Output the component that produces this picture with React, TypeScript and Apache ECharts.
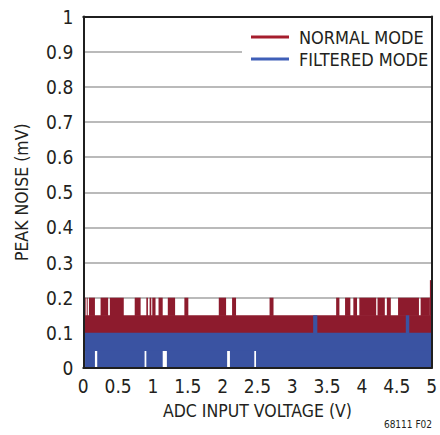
import React, { useEffect, useRef } from "react";
import * as echarts from "echarts";

// ---- data ----
const seriesNames = ["NORMAL MODE", "FILTERED MODE"];
const xTickInterval = 0.5;
const yTickInterval = 0.1;

// Normal mode: base peak noise level and spikes [startV, endV, peak mV]
const normalBase = 0.15;
const normalFloor = 0.1;
const normalSpikes: [number, number, number][] = [
  [0.0, 0.034, 0.2],
  [0.049, 0.063, 0.2],
  [0.081, 0.167, 0.2],
  [0.248, 0.357, 0.2],
  [0.381, 0.581, 0.2],
  [0.738, 0.823, 0.2],
  [0.905, 0.928, 0.2],
  [0.952, 0.976, 0.2],
  [0.99, 1.037, 0.2],
  [1.08, 1.14, 0.2],
  [1.213, 1.318, 0.2],
  [1.451, 1.508, 0.2],
  [1.945, 2.05, 0.2],
  [2.136, 2.193, 0.2],
  [2.674, 2.731, 0.2],
  [3.63, 3.677, 0.2],
  [3.758, 3.834, 0.2],
  [3.877, 3.93, 0.2],
  [3.963, 4.205, 0.2],
  [4.224, 4.329, 0.2],
  [4.358, 4.415, 0.2],
  [4.519, 4.819, 0.2],
  [4.843, 4.976, 0.2],
  [4.976, 5.0, 0.25],
];

// Filtered mode: base level, spikes [startV, endV, peak], dips [startV, endV, low]
const filteredBase = 0.1;
const filteredSpikes: [number, number, number][] = [
  [3.3, 3.36, 0.15],
  [4.63, 4.68, 0.15],
];
const filteredDips: [number, number, number][] = [
  [0.005, 0.025, 0.05],
  [0.167, 0.2, 0.05],
  [0.88, 0.905, 0.05],
  [1.14, 1.2, 0.05],
  [2.065, 2.105, 0.05],
  [2.455, 2.48, 0.05],
];

const xMin = 0;
const xMax = 5;

// ---- styles ----
const FONT = '"Liberation Sans Narrow", "DejaVu Sans Condensed", "Liberation Sans", sans-serif';
const TEXT = "#231f20";
const RED = "#8d1b2d";
const BLUE = "#3a53a2";
const RED_LEGEND = "#a51d2d";
const BLUE_LEGEND = "#3f5fb8";
const FRAME = "#1f1f1f";
const GRID = "#a3a3a3";

function buildNormal(): number[][] {
  const rects: number[][] = [[xMin, xMax, normalFloor, normalBase]];
  normalSpikes.forEach(([s, e, p]) => rects.push([s, e, normalBase, p]));
  return rects;
}

function buildFiltered(): number[][] {
  const rects: number[][] = [[xMin, xMax, 0.05, filteredBase]];
  const dips = [...filteredDips].sort((a, b) => a[0] - b[0]);
  let cur = xMin;
  dips.forEach(([s, e]) => {
    if (s > cur) rects.push([cur, s, 0, 0.05]);
    cur = Math.max(cur, e);
  });
  if (cur < xMax) rects.push([cur, xMax, 0, 0.05]);
  filteredSpikes.forEach(([s, e, p]) => rects.push([s, e, filteredBase, p]));
  return rects;
}

function makeRender(color: string) {
  return (_params: any, api: any) => {
    const p0 = api.coord([api.value(0), api.value(3)]);
    const p1 = api.coord([api.value(1), api.value(2)]);
    return {
      type: "rect",
      shape: {
        x: p0[0],
        y: p0[1],
        width: p1[0] - p0[0],
        height: p1[1] - p0[1] + 0.6,
      },
      style: { fill: color },
    };
  };
}

export default function App() {
  const ref = useRef<HTMLDivElement>(null);

  useEffect(() => {
    if (!ref.current) return;
    const chart = echarts.init(ref.current, undefined, { renderer: "svg" });
    const axisCommon = { min: xMin, max: xMax, interval: xTickInterval };
    const yCommon = { min: 0, max: 1, interval: yTickInterval };
    const frameLine = { show: true, onZero: false, lineStyle: { color: FRAME, width: 2 } };
    chart.setOption({
      animation: false,
      backgroundColor: "#ffffff",
      textStyle: { fontFamily: FONT },
      grid: { left: 83.3, right: 6.3, top: 16.5, bottom: 67, containLabel: false },
      legend: {
        orient: "vertical",
        left: 242,
        top: 25,
        itemWidth: 38,
        itemHeight: 3,
        itemGap: 2,
        padding: [2, 8, 2, 9],
        backgroundColor: "#ffffff",
        selectedMode: false,
        textStyle: {
          fontSize: 18,
          lineHeight: 20,
          color: TEXT,
          fontFamily: FONT,
          padding: [0, 0, 0, 5],
        },
        data: [
          { name: seriesNames[0], icon: "rect", itemStyle: { color: RED_LEGEND } },
          { name: seriesNames[1], icon: "rect", itemStyle: { color: BLUE_LEGEND } },
        ],
      },
      xAxis: [
        {
          type: "value",
          position: "bottom",
          ...axisCommon,
          z: 10,
          name: "ADC INPUT VOLTAGE (V)",
          nameLocation: "middle",
          nameGap: 34,
          nameTextStyle: { fontSize: 17.5, color: TEXT, fontFamily: FONT },
          axisLine: frameLine,
          axisTick: { show: false },
          splitLine: { show: false },
          axisLabel: { fontSize: 19, color: TEXT, fontFamily: FONT, margin: 8 },
        },
        {
          type: "value",
          position: "top",
          ...axisCommon,
          z: 10,
          axisLine: frameLine,
          axisTick: { show: false },
          splitLine: { show: false },
          axisLabel: { show: false },
        },
      ],
      yAxis: [
        {
          type: "value",
          position: "left",
          ...yCommon,
          z: 10,
          name: "PEAK NOISE (mV)",
          nameLocation: "middle",
          nameGap: 52,
          nameTextStyle: { fontSize: 17.5, color: TEXT, fontFamily: FONT },
          axisLine: frameLine,
          axisTick: { show: false },
          splitLine: { show: false },
          axisLabel: { fontSize: 19, color: TEXT, fontFamily: FONT, margin: 10 },
        },
        {
          type: "value",
          position: "right",
          ...yCommon,
          z: 10,
          axisLine: frameLine,
          axisTick: { show: false },
          splitLine: { show: false },
          axisLabel: { show: false },
        },
        {
          type: "value",
          position: "left",
          ...yCommon,
          z: 0,
          axisLine: { show: false },
          axisTick: { show: false },
          axisLabel: { show: false },
          splitLine: { show: true, lineStyle: { color: GRID, width: 1.5 } },
        },
      ],
      series: [
        {
          name: seriesNames[0],
          type: "custom",
          xAxisIndex: 0,
          yAxisIndex: 0,
          itemStyle: { color: RED_LEGEND },
          renderItem: makeRender(RED),
          encode: { x: [0, 1], y: [2, 3] },
          data: buildNormal(),
          z: 2,
        },
        {
          name: seriesNames[1],
          type: "custom",
          xAxisIndex: 0,
          yAxisIndex: 0,
          itemStyle: { color: BLUE_LEGEND },
          renderItem: makeRender(BLUE),
          encode: { x: [0, 1], y: [2, 3] },
          data: buildFiltered(),
          z: 3,
        },
      ],
      graphic: [
        {
          type: "text",
          right: 8,
          top: 419,
          style: { text: "68111 F02", fontSize: 10, fill: TEXT, fontFamily: FONT },
        },
      ],
    });
    return () => chart.dispose();
  }, []);

  return (
    <div
      ref={ref}
      style={{ position: "fixed", left: 0, top: 0, width: 440, height: 435 }}
    />
  );
}
